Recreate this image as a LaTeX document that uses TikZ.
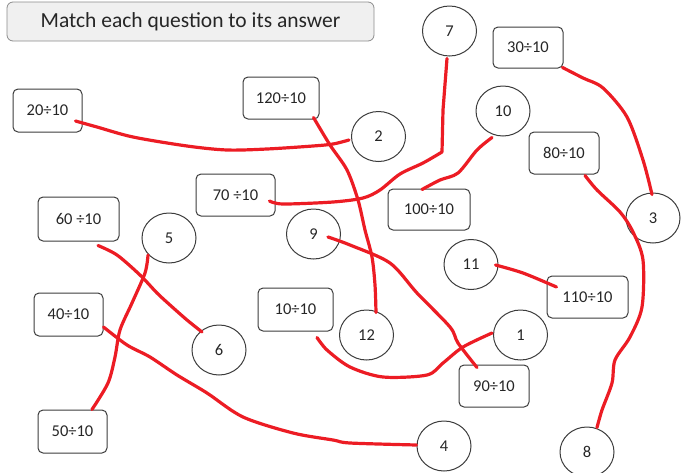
\documentclass[tikz,border=0pt]{standalone}
\usepackage{fontspec}
\setmainfont{Carlito}
\usetikzlibrary{shapes.geometric}
\definecolor{redink}{RGB}{236,28,36}
\definecolor{edge}{RGB}{60,60,60}
\tikzset{
  qbox/.style={draw=edge, line width=1pt, rounded corners=5pt, inner sep=0pt, text=black!85, font=\fontsize{16.5}{18}\selectfont},
  ans/.style={draw=edge, line width=1pt, ellipse, minimum width=54pt, minimum height=50pt, inner sep=0pt, text=black!85, font=\fontsize{16.5}{18}\selectfont},
  redline/.style={draw=redink, line width=3.2pt, line cap=round, line join=round},
  titlebox/.style={draw=black!45, fill=black!6, line width=0.8pt, rounded corners=6pt, minimum width=367pt, minimum height=39pt, inner sep=0pt, text=black!85, font=\fontsize{21.5}{23}\selectfont}
}
\begin{document}
\begin{tikzpicture}[x=1pt,y=-1pt]
\useasboundingbox (0,0) rectangle (688,472);
\node[titlebox] (title) at (190.5,21.5) {Match each question to its answer};
% question boxes
\node[qbox, minimum width=69pt, minimum height=43pt] (q20) at (47.5,110.5) {20÷10};
\node[qbox, minimum width=76pt, minimum height=42pt] (q120) at (281,98) {120÷10};
\node[qbox, minimum width=79pt, minimum height=42pt] (q70) at (235.5,195) {70 ÷10};
\node[qbox, minimum width=70pt, minimum height=41pt] (q30) at (528,47.5) {30÷10};
\node[qbox, minimum width=70pt, minimum height=42pt] (q80) at (564,153) {80÷10};
\node[qbox, minimum width=82pt, minimum height=41pt] (q100) at (429,209.5) {100÷10};
\node[qbox, minimum width=81pt, minimum height=44pt] (q60) at (78.5,219) {60 ÷10};
\node[qbox, minimum width=69pt, minimum height=43pt] (q40) at (68.5,314.5) {40÷10};
\node[qbox, minimum width=69pt, minimum height=43pt] (q50) at (72.5,431.5) {50÷10};
\node[qbox, minimum width=75pt, minimum height=43pt] (q10) at (295.5,309.5) {10÷10};
\node[qbox, minimum width=81pt, minimum height=42pt] (q110) at (587.5,297) {110÷10};
\node[qbox, minimum width=70pt, minimum height=42pt] (q90) at (494,386) {90÷10};
% answer circles
\node[ans] (a7) at (449.5,31) {7};
\node[ans] (a10) at (503,111) {10};
\node[ans] (a3) at (653,218) {3};
\node[ans] (a2) at (378.5,136.5) {2};
\node[ans] (a5) at (169,238) {5};
\node[ans] (a9) at (313.5,234) {9};
\node[ans] (a6) at (219,350) {6};
\node[ans] (a11) at (471,264.5) {11};
\node[ans] (a12) at (366.5,335) {12};
\node[ans] (a1) at (520.5,335) {1};
\node[ans] (a4) at (444,446) {4};
\node[ans] (a8) at (587,452) {8};
% red matching lines
\draw[redline] plot[smooth] coordinates {([shift={(-7,10.5)}]q20.east) (97,127) (133,137) (187,146) (227,150) (267,149) (313,146) (333,144) ([shift={(-2,3.5)}]a2.west)};
\draw[redline] plot[smooth] coordinates {([shift={(-6,-2)}]q120.south east) (330,145) (347,170) (358,200) (365,230) (372,257) (375,285) ([shift={(9.5,3)}]a12.north)};
\draw[redline] plot[smooth] coordinates {([shift={(-6,6)}]q70.east) (283,204) (333,202) (363,198) (380,190) (400,174) (423,163) (442,152)} -- (443,110) -- ([shift={(-2.5,2)}]a7.south);
\draw[redline] plot[smooth] coordinates {([shift={(-11,1)}]a10.south) (477,150) (458,173) (440,180) ([shift={(-7,1)}]q100.north)};
\draw[redline] plot[smooth] coordinates {([shift={(-1,-1)}]q30.south east) (583,78) (603,88) (627,117) (643,160) ([shift={(-1,2)}]a3.north)};
\draw[redline] plot[smooth] coordinates {([shift={(21,1)}]q80.south) (597,190) (620,212) (633,232) (643,260) (642,307) (630,337) (615,360) (612,383) (602,410) ([shift={(10,1)}]a8.north)};
\draw[redline] plot[smooth] coordinates {([shift={(19.5,4)}]q60.south) (117,255) (140,275) (157,293) (170,305) (187,320) ([shift={(-17,-18)}]a6.center)};
\draw[redline] plot[smooth] coordinates {([shift={(-21,17)}]a5.center) (145,273) (132,303) (120,330) (115,357) (108,383) ([shift={(19.5,0)}]q50.north)};
\draw[redline] plot[smooth] coordinates {([shift={(0,12.5)}]q40.east) (127,345) (150,357) (177,375) (207,393) (243,417) (293,433) (333,440) (350,443) ([shift={(0,-1)}]a4.west)};
\draw[redline] plot[smooth] coordinates {([shift={(14.5,3)}]a9.center) (350,245) (390,263) (417,293) (450,327) (458,343) ([shift={(-17,3)}]q90.north)};
\draw[redline] plot[smooth] coordinates {([shift={(21.5,6)}]q10.south) (327,350) (350,367) (383,377) (427,375) (443,363) (463,347) ([shift={(-1,-2)}]a1.west)};
\draw[redline] plot[smooth] coordinates {([shift={(-3,0.5)}]a11.east) (523,273) ([shift={(10,-10)}]q110.west)};
\end{tikzpicture}
\end{document}
